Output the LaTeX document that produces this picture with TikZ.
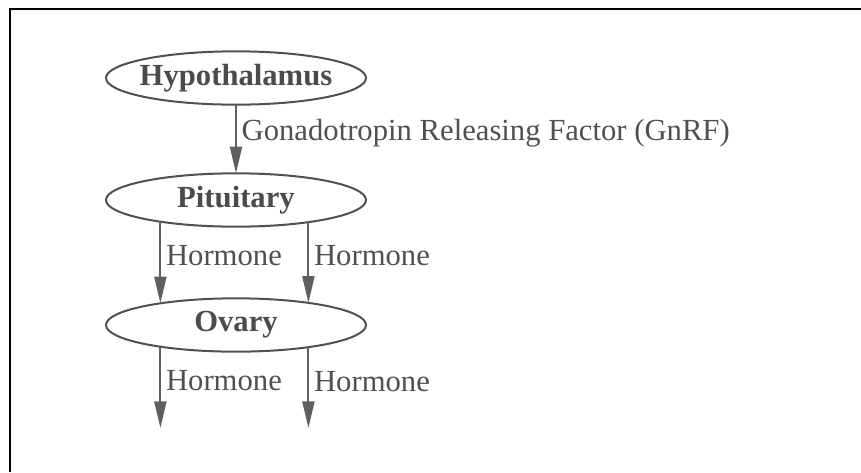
\documentclass[tikz,border=0pt]{standalone}
\usepackage{fontspec}
\setmainfont{Liberation Serif}
\usetikzlibrary{shapes.geometric,arrows.meta}

\begin{document}
\begin{tikzpicture}[x=0.75pt,y=0.75pt,yscale=-1,xscale=1,
  organ/.style={ellipse,draw={rgb,255:red,80;green,80;blue,80},line width=1.5pt,minimum width=195pt,minimum height=40pt,inner xsep=-5pt,inner ysep=-4pt,outer sep=0pt,text={rgb,255:red,75;green,75;blue,75},font=\fontsize{23}{28}\selectfont\bfseries},
  flow/.style={draw={rgb,255:red,95;green,95;blue,95},line width=1.5pt,-{Triangle[length=20pt,width=9pt]}},
  lbl/.style={right,inner sep=3.5pt,text={rgb,255:red,80;green,80;blue,80},font=\fontsize{23}{28}\selectfont}]
\useasboundingbox (0,0) rectangle (861,472);
%Frame
\draw [line width=2.2pt] (10,472) -- (10,9) -- (861,9) ;

%Shape: Ellipse
\node [organ] (hypo) at (236,78) {Hypothalamus};
%Shape: Ellipse
\node [organ] (pit) at (236,200) {Pituitary};
%Shape: Ellipse
\node [organ] (ovary) at (236,325) {Ovary};

%Free ends
\coordinate (outl) at (161,428);
\coordinate (outr) at (307,428);

%Straight Lines
\draw [flow] (hypo) -- node [lbl,pos=0.42] {Gonadotropin Releasing Factor (GnRF)} (pit) ;
%Straight Lines
\draw [flow] (pit.196) -- node [lbl,pos=0.42] {Hormone} (ovary.164) ;
\draw [flow] (pit.343) -- node [lbl,pos=0.42] {Hormone} (ovary.17) ;
%Straight Lines
\draw [flow] (ovary.196) -- node [lbl,pos=0.42] {Hormone} (ovary.196 |- outl) ;
\draw [flow] (ovary.343) -- node [lbl,pos=0.42] {Hormone} (ovary.343 |- outr) ;
\end{tikzpicture}
\end{document}
